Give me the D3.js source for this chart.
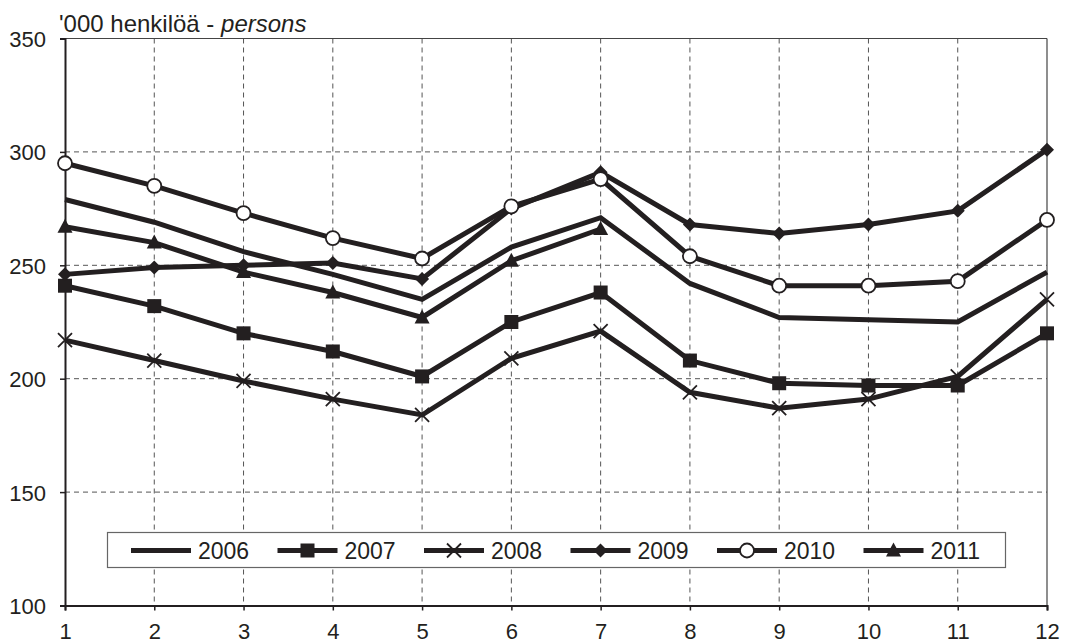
<!DOCTYPE html>
<html><head><meta charset="utf-8">
<script src="https://cdn.jsdelivr.net/npm/d3@7"></script>
<style>body{margin:0;background:#fff}svg{display:block;font-family:"Liberation Sans",Arial,sans-serif}</style>
</head><body><svg id="c" width="1065" height="644"></svg>
<script>
const months = [1,2,3,4,5,6,7,8,9,10,11,12];
const yTicks = [100,150,200,250,300,350];
const years = ["2006","2007","2008","2009","2010","2011"];
const s2006 = [279,269,256,246,235,258,271,242,227,226,225,247];
const s2007 = [241,232,220,212,201,225,238,208,198,197,197,220];
const s2008 = [217,208,199,191,184,209,221,194,187,191,201,235];
const s2009 = [246,249,250,251,244,275,291,268,264,268,274,301];
const s2010 = [295,285,273,262,253,276,288,254,241,241,243,270];
const s2011 = [267,260,247,238,227,252,266];
const markers = ["none","square","cross","diamond","circle","triangle"];
const seriesData = [s2006,s2007,s2008,s2009,s2010,s2011];

const svg = d3.select("#c");
const col = "#231f20";
const x = d3.scaleLinear().domain([1,12]).range([65,1047]);
const y = d3.scaleLinear().domain([100,350]).range([605.5,38.5]);

// grid
svg.append("g").selectAll("line").data(months.slice(1,11)).join("line")
  .attr("x1",d=>x(d)).attr("x2",d=>x(d)).attr("y1",y(350)).attr("y2",y(100))
  .attr("stroke","#555").attr("stroke-width",1).attr("stroke-dasharray","5,4");
svg.append("g").selectAll("line").data(yTicks.slice(1,5)).join("line")
  .attr("x1",x(1)).attr("x2",x(12)).attr("y1",d=>y(d)).attr("y2",d=>y(d))
  .attr("stroke","#555").attr("stroke-width",1).attr("stroke-dasharray","5,4");
// frame top/right
svg.append("line").attr("x1",x(1)).attr("x2",x(12)).attr("y1",y(350)).attr("y2",y(350)).attr("stroke","#444").attr("stroke-width",1.2);
svg.append("line").attr("x1",x(12)).attr("x2",x(12)).attr("y1",y(350)).attr("y2",y(100)).attr("stroke","#444").attr("stroke-width",1.2);

// axes
const yAxis = svg.append("g").attr("transform",`translate(${x(1)},0)`)
  .call(d3.axisLeft(y).tickValues(yTicks).tickSize(5).tickPadding(14));
const xAxis = svg.append("g").attr("transform",`translate(0,${y(100)})`)
  .call(d3.axisBottom(x).tickValues(months).tickSize(5));
[yAxis,xAxis].forEach(a=>{
  a.select(".domain").attr("stroke",col).attr("stroke-width",2);
  a.selectAll(".tick line").attr("stroke",col).attr("stroke-width",1.5);
  a.selectAll("text").attr("fill",col).style("font-size","22px").style("font-family","Liberation Sans, Arial, sans-serif");
});
yAxis.selectAll("text").attr("dy","0.36em");
xAxis.selectAll("text").attr("y",33.5).attr("dy","0").style("font-size","22px");

// title
const t = svg.append("text").attr("x",59).attr("y",31.5).attr("fill",col).style("font-size","24px");
t.append("tspan").text("'000 henkilöä - ");
t.append("tspan").attr("font-style","italic").text("persons");

function drawMarker(g, type, cx, cy){
  if(type==="square") g.append("rect").attr("x",cx-7).attr("y",cy-7).attr("width",14).attr("height",14).attr("fill",col);
  else if(type==="cross") g.append("path").attr("d",`M${cx-7},${cy-7}L${cx+7},${cy+7}M${cx-7},${cy+7}L${cx+7},${cy-7}`).attr("stroke",col).attr("stroke-width",1.8).attr("fill","none");
  else if(type==="diamond") g.append("path").attr("d",`M${cx},${cy-7}L${cx+7},${cy}L${cx},${cy+7}L${cx-7},${cy}Z`).attr("fill",col);
  else if(type==="circle") g.append("circle").attr("cx",cx).attr("cy",cy).attr("r",7).attr("fill","#fff").attr("stroke",col).attr("stroke-width",1.8);
  else if(type==="triangle") g.append("path").attr("d",`M${cx},${cy-8}L${cx+7.5},${cy+6}L${cx-7.5},${cy+6}Z`).attr("fill",col);
}

const line = d3.line().x((d,i)=>x(months[i])).y(d=>y(d));
seriesData.forEach((s,k)=>{
  const g = svg.append("g");
  g.append("path").attr("d",line(s)).attr("fill","none").attr("stroke",col).attr("stroke-width",5).attr("stroke-linejoin","miter");
  s.forEach((v,i)=>drawMarker(g,markers[k],x(months[i]),y(v)));
});

// legend
const lg = svg.append("g");
lg.append("rect").attr("x",107.5).attr("y",532.5).attr("width",898).attr("height",35).attr("fill","#fff").attr("stroke","#666").attr("stroke-width",1.2);
years.forEach((yr,k)=>{
  const lx = 131 + k*146.5, ly = 550.5;
  lg.append("line").attr("x1",lx).attr("x2",lx+60).attr("y1",ly).attr("y2",ly).attr("stroke",col).attr("stroke-width",5);
  drawMarker(lg,markers[k],lx+30,ly);
  lg.append("text").attr("x",lx+67).attr("y",ly+8).attr("fill",col).style("font-size","23px").text(yr);
});
</script></body></html>
